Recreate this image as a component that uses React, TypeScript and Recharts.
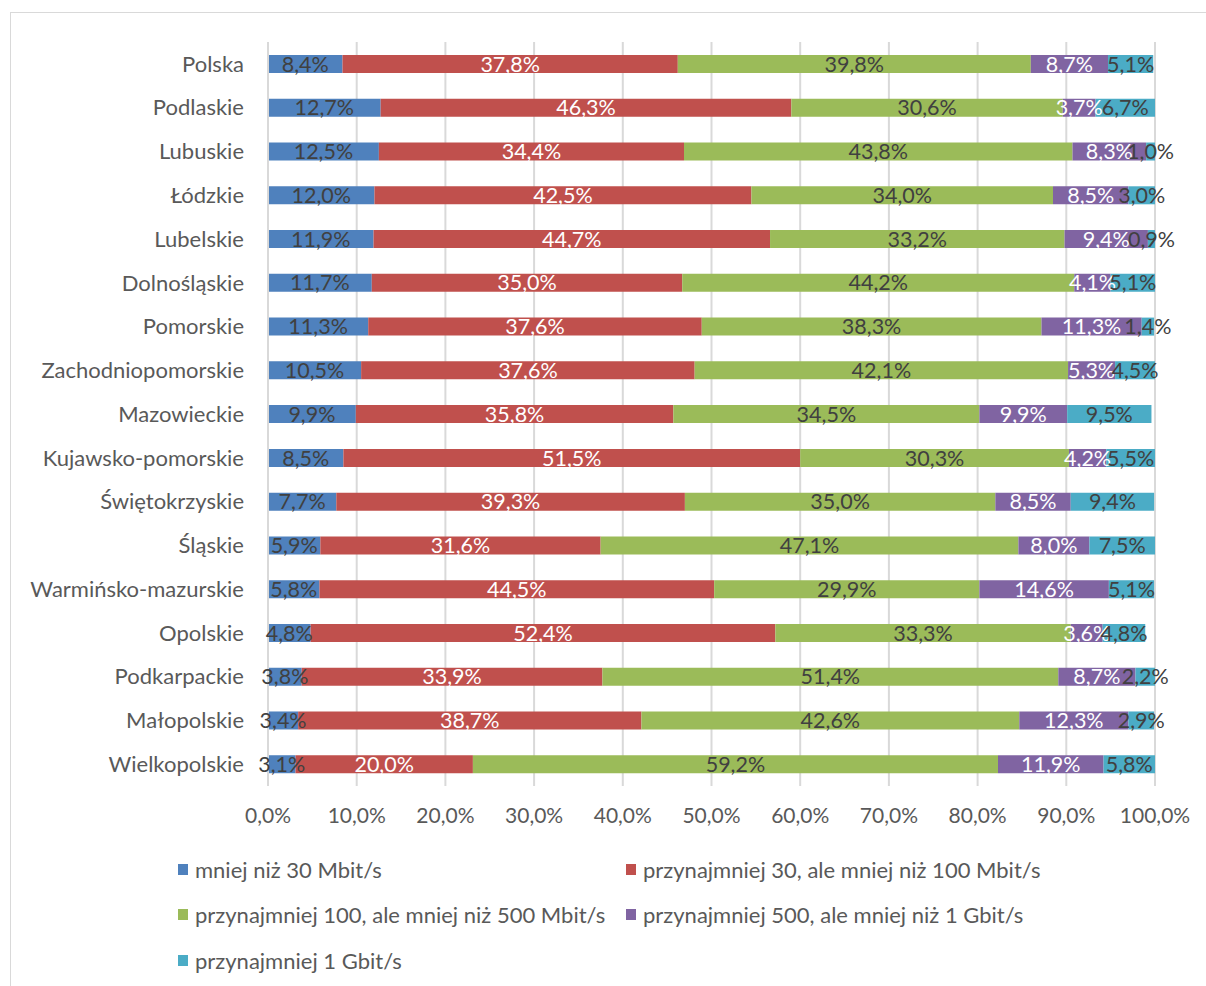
import { BarChart, Bar, XAxis, YAxis, CartesianGrid, LabelList } from 'recharts';

const categories = [
  'Polska', 'Podlaskie', 'Lubuskie', 'Łódzkie', 'Lubelskie', 'Dolnośląskie', 'Pomorskie',
  'Zachodniopomorskie', 'Mazowieckie', 'Kujawsko-pomorskie', 'Świętokrzyskie', 'Śląskie',
  'Warmińsko-mazurskie', 'Opolskie', 'Podkarpackie', 'Małopolskie', 'Wielkopolskie',
];

const below30 = [8.4, 12.7, 12.5, 12.0, 11.9, 11.7, 11.3, 10.5, 9.9, 8.5, 7.7, 5.9, 5.8, 4.8, 3.8, 3.4, 3.1];
const from30to100 = [37.8, 46.3, 34.4, 42.5, 44.7, 35.0, 37.6, 37.6, 35.8, 51.5, 39.3, 31.6, 44.5, 52.4, 33.9, 38.7, 20.0];
const from100to500 = [39.8, 30.6, 43.8, 34.0, 33.2, 44.2, 38.3, 42.1, 34.5, 30.3, 35.0, 47.1, 29.9, 33.3, 51.4, 42.6, 59.2];
const from500to1g = [8.7, 3.7, 8.3, 8.5, 9.4, 4.1, 11.3, 5.3, 9.9, 4.2, 8.5, 8.0, 14.6, 3.6, 8.7, 12.3, 11.9];
const atLeast1g = [5.1, 6.7, 1.0, 3.0, 0.9, 5.1, 1.4, 4.5, 9.5, 5.5, 9.4, 7.5, 5.1, 4.8, 2.2, 2.9, 5.8];

const xTicks = [0, 10, 20, 30, 40, 50, 60, 70, 80, 90, 100];

const series = [
  { key: 'a', name: 'mniej niż 30 Mbit/s', color: '#4F81BD', label: '#404040' },
  { key: 'b', name: 'przynajmniej 30, ale mniej niż 100 Mbit/s', color: '#C0504D', label: '#ffffff' },
  { key: 'c', name: 'przynajmniej 100, ale mniej niż 500 Mbit/s', color: '#9BBB59', label: '#404040' },
  { key: 'd', name: 'przynajmniej 500, ale mniej niż 1 Gbit/s', color: '#8064A2', label: '#ffffff' },
  { key: 'e', name: 'przynajmniej 1 Gbit/s', color: '#4BACC6', label: '#404040' },
];

const data = categories.map((name, i) => ({
  name,
  a: below30[i],
  b: from30to100[i],
  c: from100to500[i],
  d: from500to1g[i],
  e: atLeast1g[i],
}));

const font = 'Lato, "Liberation Sans", sans-serif';
const pct = (v: number) => v.toFixed(1).replace('.', ',') + '%';

function LegendBox() {
  const items = [
    { s: series[0], left: 178, top: 859 },
    { s: series[1], left: 626, top: 859 },
    { s: series[2], left: 178, top: 904 },
    { s: series[3], left: 626, top: 904 },
    { s: series[4], left: 178, top: 950 },
  ];
  return (
    <>
      {items.map(({ s, left, top }) => (
        <div
          key={s.key}
          style={{ position: 'absolute', left, top, display: 'flex', alignItems: 'center', height: 20, fontFamily: font, fontSize: 22, color: '#595959', whiteSpace: 'nowrap' }}
        >
          <span style={{ display: 'inline-block', width: 10, height: 11, background: s.color, marginRight: 7 }} />
          {s.name}
        </div>
      ))}
    </>
  );
}

export default function App() {
  return (
    <div style={{ position: 'absolute', left: 0, top: 0, width: 1206, height: 986, background: '#fff', overflow: 'hidden' }}>
      <div style={{ position: 'absolute', left: 10, top: 12, width: 1210, height: 1000, border: '1px solid #d9d9d9' }} />
      <div style={{ position: 'absolute', left: 0, top: 0 }}>
        <BarChart
          width={1206}
          height={986}
          data={data}
          layout="vertical"
          barSize={18}
          margin={{ top: 42, right: 51, bottom: 160, left: 8 }}
        >
          <CartesianGrid horizontal={false} stroke="#d9d9d9" strokeWidth={2} />
          <XAxis
            type="number"
            domain={[0, 100]}
            allowDataOverflow
            ticks={xTicks}
            tickFormatter={pct}
            axisLine={false}
            tickLine={false}
            tickMargin={16}
            height={40}
            tick={{ fill: '#595959', fontSize: 21, fontFamily: font }}
          />
          <YAxis
            type="category"
            dataKey="name"
            width={260}
            axisLine={{ stroke: '#d9d9d9', strokeWidth: 2 }}
            tickLine={false}
            tickSize={0}
            tickMargin={24}
            tick={{ fill: '#595959', fontSize: 22, fontFamily: font }}
          />
          {series.map((s) => (
            <Bar key={s.key} dataKey={s.key} name={s.name} stackId="x" fill={s.color} isAnimationActive={false}>
              <LabelList
                dataKey={s.key}
                position="center"
                formatter={(v: any) => pct(Number(v))}
                fill={s.label}
                style={{ fontSize: 21.5, fontFamily: font }}
              />
            </Bar>
          ))}
        </BarChart>
      </div>
      <LegendBox />
    </div>
  );
}
